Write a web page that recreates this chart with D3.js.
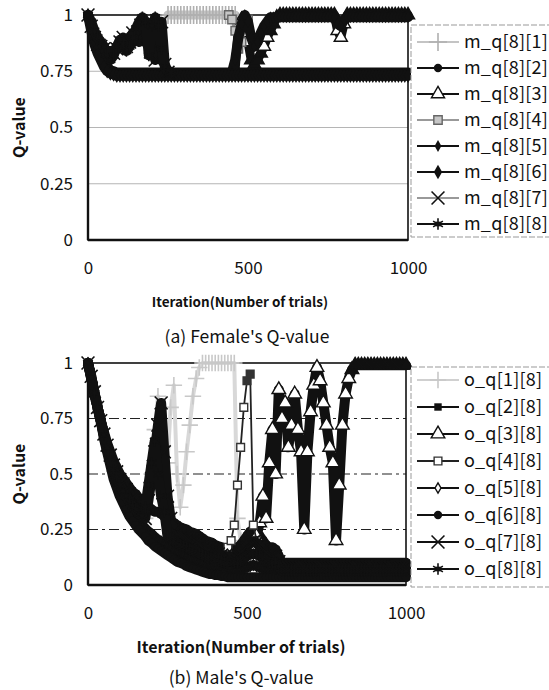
<!DOCTYPE html>
<html>
<head>
<meta charset="utf-8">
<script src="https://cdn.jsdelivr.net/npm/d3@7"></script>
<style>
  body { margin: 0; background: #fff; }
  text { font-family: "Noto Sans CJK JP", "DejaVu Sans", sans-serif; fill: #111; }
</style>
</head>
<body>
<svg id="chart" width="549" height="690"></svg>
<script>
// ---- data ----
const step = 10; // one sample every 10 trials
const iterTicks = [0, 500, 1000];
const qTicks = [0, 0.25, 0.5, 0.75, 1];
const qTickLabels = ['0', '0.25', '0.5', '0.75', '1'];
const gridTicks = [0.25, 0.5, 0.75];

// (a) female: m_q[8][k]
const femaleNames = ['m_q[8][1]', 'm_q[8][2]', 'm_q[8][3]', 'm_q[8][4]', 'm_q[8][5]', 'm_q[8][6]', 'm_q[8][7]', 'm_q[8][8]'];
const femaleStart = [250, 0, 450, 440, 450, 0, 0, 0];
const mq1 = [1, 1, 1, 1, 1, 1, 1, 1, 1, 1, 1, 1, 1, 1, 1, 1, 1, 1, 1, 1, 1, 1, 0.97];
const mq2 = [
  1, 0.95, 0.9, 0.86, 0.82, 0.79, 0.77, 0.755, 0.75, 0.745,
  0.745, 0.745, 0.745, 0.745, 0.745, 0.745, 0.745, 0.745, 0.745, 0.745,
  0.745, 0.745, 0.745, 0.745, 0.745, 0.745, 0.745, 0.745, 0.745, 0.745,
  0.745, 0.745, 0.745, 0.745, 0.745, 0.745, 0.745, 0.745, 0.745, 0.745,
  0.745, 0.745, 0.745, 0.745, 0.745, 0.745, 0.745, 0.745, 0.745, 0.745,
  0.745, 0.745, 0.745, 0.745, 0.745, 0.745, 0.745, 0.745, 0.745, 0.745,
  0.745, 0.745, 0.745, 0.745, 0.745, 0.745, 0.745, 0.745, 0.745, 0.745,
  0.745, 0.745, 0.745, 0.745, 0.745, 0.745, 0.745, 0.745, 0.745, 0.745,
  0.745, 0.745, 0.745, 0.745, 0.745, 0.745, 0.745, 0.745, 0.745, 0.745,
  0.745, 0.745, 0.745, 0.745, 0.745, 0.745, 0.745, 0.745, 0.745, 0.745,
  0.745];
const mq3 = [
  0.745, 0.76, 0.95, 0.98, 0.92, 0.88, 0.8, 0.78, 0.8, 0.83,
  0.86, 0.9, 0.93, 0.96, 0.99, 1, 1, 1, 1, 1,
  1, 1, 1, 1, 1, 1, 1, 1, 1, 1,
  1, 1, 1, 0.93, 0.9, 0.96, 1, 1, 1, 1,
  1, 1, 1, 1, 1, 1, 1, 1, 1, 1,
  1, 1, 1, 1, 1, 1];
const mq4 = [1, 0.98, 0.93, 0.85, 0.88, 0.94, 0.98];
const mq5 = [
  0.745, 0.8, 0.9, 0.96, 1, 0.97, 0.9, 0.86, 0.88, 0.92,
  0.95, 0.97, 0.99, 0.99, 0.99, 0.99, 0.99, 0.99, 0.99, 0.99,
  0.99, 0.99, 0.99, 0.99, 0.99, 0.99, 0.99, 0.99, 0.99, 0.99,
  0.99, 0.99, 0.99, 0.96, 0.95, 0.98, 0.99, 0.99, 0.99, 0.99,
  0.99, 0.99, 0.99, 0.99, 0.99, 0.99, 0.99, 0.99, 0.99, 0.99,
  0.99, 0.99, 0.99, 0.99, 0.99, 0.99];
const mq6 = [
  1, 0.93, 0.87, 0.83, 0.8, 0.77, 0.75, 0.74, 0.735, 0.73,
  0.73, 0.73, 0.73, 0.73, 0.73, 0.73, 0.73, 0.73, 0.73, 0.73,
  0.73, 0.73, 0.73, 0.73, 0.73, 0.73, 0.73, 0.73, 0.73, 0.73,
  0.73, 0.73, 0.73, 0.73, 0.73, 0.73, 0.73, 0.73, 0.73, 0.73,
  0.73, 0.73, 0.73, 0.73, 0.73, 0.73, 0.73, 0.73, 0.73, 0.73,
  0.73, 0.73, 0.73, 0.73, 0.73, 0.73, 0.73, 0.73, 0.73, 0.73,
  0.73, 0.73, 0.73, 0.73, 0.73, 0.73, 0.73, 0.73, 0.73, 0.73,
  0.73, 0.73, 0.73, 0.73, 0.73, 0.73, 0.73, 0.73, 0.73, 0.73,
  0.73, 0.73, 0.73, 0.73, 0.73, 0.73, 0.73, 0.73, 0.73, 0.73,
  0.73, 0.73, 0.73, 0.73, 0.73, 0.73, 0.73, 0.73, 0.73, 0.73,
  0.73];
const mq7 = [
  1, 0.95, 0.9, 0.87, 0.86, 0.85, 0.84, 0.84, 0.83, 0.85,
  0.88, 0.9, 0.86, 0.88, 0.92, 0.9, 0.88, 0.93, 0.96, 0.93,
  0.88, 0.8, 0.92, 0.97, 0.78, 0.745];
const mq8 = [
  1, 0.97, 0.93, 0.9, 0.88, 0.86, 0.82, 0.8, 0.82, 0.86,
  0.89, 0.87, 0.84, 0.86, 0.9, 0.94, 0.97, 0.99, 0.97, 0.82,
  0.95, 0.99, 0.95, 0.85, 0.77, 0.75, 0.745];

// (b) male: o_q[k][8]
const maleNames = ['o_q[1][8]', 'o_q[2][8]', 'o_q[3][8]', 'o_q[4][8]', 'o_q[5][8]', 'o_q[6][8]', 'o_q[7][8]', 'o_q[8][8]'];
const maleStart = [170, 0, 530, 440, 0, 0, 0, 0];
const oq1 = [
  0.24, 0.3, 0.35, 0.5, 0.7, 0.85, 0.6, 0.4, 0.55, 0.8,
  0.9, 0.5, 0.35, 0.45, 0.6, 0.72, 0.85, 0.93, 0.98, 1,
  1, 1, 1, 1, 1, 1, 1, 1, 1, 1,
  0.3, 0.2];
const oq2 = [
  1, 0.94, 0.87, 0.8, 0.74, 0.69, 0.64, 0.6, 0.56, 0.53,
  0.5, 0.48, 0.46, 0.44, 0.42, 0.41, 0.39, 0.38, 0.36, 0.35,
  0.34, 0.33, 0.33, 0.32, 0.31, 0.3, 0.29, 0.28, 0.27, 0.26,
  0.255, 0.25, 0.24, 0.235, 0.23, 0.22, 0.21, 0.2, 0.195, 0.19,
  0.18, 0.175, 0.17, 0.16, 0.155, 0.155, 0.16, 0.17, 0.18, 0.2,
  0.22, 0.24, 0.25, 0.24, 0.22, 0.2, 0.18, 0.17, 0.17, 0.16,
  0.13, 0.1, 0.1, 0.1, 0.1, 0.1, 0.1, 0.1, 0.1, 0.1,
  0.1, 0.1, 0.1, 0.1, 0.1, 0.1, 0.1, 0.1, 0.1, 0.1,
  0.1, 0.1, 0.1, 0.1, 0.1, 0.1, 0.1, 0.1, 0.1, 0.1,
  0.1, 0.1, 0.1, 0.1, 0.1, 0.1, 0.1, 0.1, 0.1, 0.1,
  0.1];
const oq3 = [
  0.22, 0.28, 0.4, 0.3, 0.55, 0.7, 0.5, 0.88, 0.75, 0.82,
  0.62, 0.72, 0.86, 0.7, 0.6, 0.25, 0.6, 0.78, 0.9, 0.98,
  0.92, 0.82, 0.72, 0.62, 0.55, 0.2, 0.45, 0.72, 0.86, 0.93,
  0.97, 0.99, 0.99, 0.99, 0.99, 0.99, 0.99, 0.99, 0.99, 0.99,
  0.99, 0.99, 0.99, 0.99, 0.99, 0.99, 0.99, 0.99];
const oq4 = [0.17, 0.2, 0.27, 0.45, 0.62, 0.8, 0.92, 0.95, 0.27, 0.2];
const oq5 = [
  1, 0.93, 0.86, 0.8, 0.74, 0.67, 0.61, 0.555, 0.5, 0.46,
  0.425, 0.4, 0.37, 0.34, 0.32, 0.305, 0.285, 0.27, 0.255, 0.24,
  0.23, 0.215, 0.205, 0.195, 0.185, 0.175, 0.165, 0.155, 0.145, 0.14,
  0.135, 0.125, 0.12, 0.115, 0.11, 0.105, 0.1, 0.09, 0.085, 0.085,
  0.08, 0.08, 0.07, 0.07, 0.065, 0.065, 0.065, 0.07, 0.07, 0.075,
  0.08, 0.085, 0.09, 0.085, 0.08, 0.075, 0.07, 0.07, 0.07, 0.065,
  0.06, 0.05, 0.05, 0.05, 0.05, 0.05, 0.05, 0.05, 0.05, 0.05,
  0.05, 0.05, 0.05, 0.05, 0.05, 0.05, 0.05, 0.05, 0.05, 0.05,
  0.05, 0.05, 0.05, 0.05, 0.05, 0.05, 0.05, 0.05, 0.05, 0.05,
  0.05, 0.05, 0.05, 0.05, 0.05, 0.05, 0.05, 0.05, 0.05, 0.05,
  0.05];
const oq6 = [
  1, 0.93, 0.86, 0.8, 0.74, 0.66, 0.6, 0.54, 0.48, 0.44,
  0.4, 0.37, 0.34, 0.31, 0.29, 0.27, 0.25, 0.235, 0.22, 0.2,
  0.19, 0.175, 0.165, 0.155, 0.145, 0.135, 0.125, 0.115, 0.105, 0.1,
  0.095, 0.085, 0.08, 0.075, 0.07, 0.065, 0.06, 0.055, 0.05, 0.05,
  0.045, 0.045, 0.04, 0.04, 0.035, 0.035, 0.035, 0.035, 0.035, 0.035,
  0.035, 0.035, 0.035, 0.035, 0.035, 0.035, 0.035, 0.035, 0.035, 0.035,
  0.035, 0.035, 0.035, 0.035, 0.035, 0.035, 0.035, 0.035, 0.035, 0.035,
  0.035, 0.035, 0.035, 0.035, 0.035, 0.035, 0.035, 0.035, 0.035, 0.035,
  0.035, 0.035, 0.035, 0.035, 0.035, 0.035, 0.035, 0.035, 0.035, 0.035,
  0.035, 0.035, 0.035, 0.035, 0.035, 0.035, 0.035, 0.035, 0.035, 0.035,
  0.035];
const oq7 = [
  1, 0.94, 0.87, 0.8, 0.74, 0.68, 0.63, 0.585, 0.54, 0.51,
  0.475, 0.455, 0.43, 0.41, 0.39, 0.375, 0.355, 0.345, 0.3, 0.38,
  0.48, 0.6, 0.72, 0.82, 0.6, 0.4, 0.3, 0.24, 0.23, 0.22,
  0.215, 0.21, 0.2, 0.195, 0.19, 0.18, 0.17, 0.165, 0.16, 0.155,
  0.145, 0.14, 0.135, 0.13, 0.125, 0.125, 0.13, 0.135, 0.145, 0.16,
  0.175, 0.19, 0.195, 0.19, 0.175, 0.16, 0.145, 0.135, 0.135, 0.13,
  0.105, 0.08, 0.08, 0.08, 0.08, 0.08, 0.08, 0.08, 0.08, 0.08,
  0.08, 0.08, 0.08, 0.08, 0.08, 0.08, 0.08, 0.08, 0.08, 0.08,
  0.08, 0.08, 0.08, 0.08, 0.08, 0.08, 0.08, 0.08, 0.08, 0.08,
  0.08, 0.08, 0.08, 0.08, 0.08, 0.08, 0.08, 0.08, 0.08, 0.08,
  0.08];
const oq8 = [
  1, 0.935, 0.865, 0.8, 0.74, 0.675, 0.62, 0.57, 0.52, 0.485,
  0.45, 0.425, 0.4, 0.375, 0.355, 0.34, 0.32, 0.31, 0.35, 0.45,
  0.55, 0.65, 0.5, 0.4, 0.33, 0.22, 0.21, 0.2, 0.19, 0.18,
  0.175, 0.17, 0.16, 0.155, 0.15, 0.145, 0.135, 0.13, 0.12, 0.12,
  0.11, 0.11, 0.105, 0.1, 0.095, 0.095, 0.1, 0.1, 0.11, 0.12,
  0.13, 0.14, 0.14, 0.14, 0.13, 0.12, 0.11, 0.1, 0.1, 0.1,
  0.08, 0.065, 0.065, 0.065, 0.065, 0.065, 0.065, 0.065, 0.065, 0.065,
  0.065, 0.065, 0.065, 0.065, 0.065, 0.065, 0.065, 0.065, 0.065, 0.065,
  0.065, 0.065, 0.065, 0.065, 0.065, 0.065, 0.065, 0.065, 0.065, 0.065,
  0.065, 0.065, 0.065, 0.065, 0.065, 0.065, 0.065, 0.065, 0.065, 0.065,
  0.065];

// ---- styles ----
// env: width of the band traced by the densely packed markers
const femaleStyles = [
  { line: '#c4c4c4', env: 9, envColor: '#c4c4c4', shape: 'plus', stroke: '#b0b0b0', size: 110 },
  { line: '#111', env: 10, envColor: '#111', shape: 'circle', fill: '#111', size: 55 },
  { line: '#111', env: 9, envColor: '#111', shape: 'triangle', fill: '#fff', stroke: '#111', size: 75, hollow: true },
  { line: '#999', env: 3, envColor: '#9a9a9a', shape: 'square', fill: '#c6c6c6', stroke: '#666', size: 70 },
  { line: '#111', env: 10, envColor: '#111', shape: 'diamond', fill: '#111', size: 40 },
  { line: '#111', env: 10, envColor: '#111', shape: 'diamond', fill: '#111', size: 60 },
  { line: '#999', env: 10, envColor: '#111', shape: 'times', stroke: '#111', size: 110 },
  { line: '#111', env: 10, envColor: '#111', shape: 'star', fill: '#111', stroke: '#111', size: 90 }
];
const maleStyles = [
  { line: '#d0d0d0', env: 4, envColor: '#d8d8d8', shape: 'plus', stroke: '#c8c8c8', size: 90 },
  { line: '#111', env: 10, envColor: '#111', shape: 'square', fill: '#111', size: 55 },
  { line: '#111', env: 10, envColor: '#111', shape: 'triangle', fill: '#fff', stroke: '#111', size: 80, hollow: true },
  { line: '#222', env: 1.8, envColor: '#222', shape: 'square', fill: '#fff', stroke: '#333', size: 60, hollow: true },
  { line: '#111', env: 10, envColor: '#111', shape: 'diamond', fill: '#fff', stroke: '#111', size: 30, solidInPlot: true },
  { line: '#111', env: 10, envColor: '#111', shape: 'circle', fill: '#111', size: 55 },
  { line: '#111', env: 10, envColor: '#111', shape: 'times', stroke: '#111', size: 110 },
  { line: '#111', env: 10, envColor: '#111', shape: 'star', fill: '#111', stroke: '#111', size: 90 }
];

const symbolTypes = {
  plus: d3.symbolPlus, circle: d3.symbolCircle, triangle: d3.symbolTriangle,
  square: d3.symbolSquare, diamond: d3.symbolDiamond, times: d3.symbolTimes,
  star: d3.symbolAsterisk
};

const svg = d3.select('#chart');

function drawMarker(sel, st, fill) {
  if (st.shape === 'star') {
    sel.append('path').attr('d', d3.symbol(d3.symbolSquare, 22)())
      .attr('fill', st.fill);
  }
  const stroked = ['plus', 'times', 'star'].includes(st.shape);
  sel.append('path')
    .attr('d', d3.symbol(symbolTypes[st.shape], st.size)())
    .attr('fill', stroked ? 'none' : (fill || st.fill))
    .attr('stroke', stroked ? st.stroke : (st.stroke || 'none'))
    .attr('stroke-width', stroked ? 1.6 : 1.4);
}

// a hollow marker only shows its inside where it stands apart from its neighbours
function standsApart(vals, i) {
  const p = i > 0 ? Math.abs(vals[i] - vals[i - 1]) : 1;
  const n = i < vals.length - 1 ? Math.abs(vals[i + 1] - vals[i]) : 1;
  return Math.min(p, n) >= 0.03;
}

function drawPanel(cfg) {
  const x = d3.scaleLinear().domain([0, 1000]).range([cfg.left, cfg.right]);
  const y = d3.scaleLinear().domain([0, 1]).range([cfg.bottom, cfg.top]);
  const g = svg.append('g');

  g.selectAll('line.grid').data(gridTicks).join('line')
    .attr('class', 'grid')
    .attr('x1', x(0)).attr('x2', x(1000))
    .attr('y1', d => y(d)).attr('y2', d => y(d))
    .attr('stroke', cfg.gridColor)
    .attr('stroke-width', cfg.gridWidth)
    .attr('stroke-dasharray', cfg.gridDash);

  // frame
  g.append('rect')
    .attr('x', x(0)).attr('y', y(1))
    .attr('width', x(1000) - x(0)).attr('height', y(0) - y(1))
    .attr('fill', 'none').attr('stroke', '#111').attr('stroke-width', 1.6);
  g.append('line').attr('x1', x(0)).attr('x2', x(0)).attr('y1', y(1)).attr('y2', y(0))
    .attr('stroke', '#111').attr('stroke-width', 2.4);
  g.append('line').attr('x1', x(0)).attr('x2', x(1000)).attr('y1', y(0)).attr('y2', y(0))
    .attr('stroke', '#111').attr('stroke-width', 2.4);

  const line = d3.line().x(d => x(d[0])).y(d => y(d[1]));
  cfg.series.forEach((vals, k) => {
    const st = cfg.styles[k];
    const pts = vals.map((v, i) => [cfg.starts[k] + i * step, v, i]);
    g.append('path').datum(pts).attr('d', line)
      .attr('fill', 'none').attr('stroke', st.envColor).attr('stroke-width', st.env)
      .attr('stroke-linejoin', 'round').attr('stroke-linecap', 'round');
    g.selectAll(null).data(pts).join('g')
      .attr('transform', d => `translate(${x(d[0])},${y(d[1])})`)
      .each(function (d) {
        let fill = st.fill;
        if (st.hollow && !standsApart(vals, d[2])) fill = st.stroke;
        if (st.solidInPlot) fill = st.stroke;
        drawMarker(d3.select(this), st, fill);
      });
  });

  // axes
  const yAxis = g.append('g').attr('transform', `translate(${x(0)},0)`)
    .call(d3.axisLeft(y).tickValues(qTicks).tickFormat((d, i) => qTickLabels[i])
      .tickSize(0).tickPadding(15));
  yAxis.select('.domain').remove();
  yAxis.selectAll('text').attr('font-size', 17).attr('font-family', '"Noto Sans CJK JP", sans-serif');

  const xAxis = g.append('g').attr('transform', `translate(0,${y(0)})`)
    .call(d3.axisBottom(x).tickValues(iterTicks).tickFormat(d3.format('d'))
      .tickSize(0).tickPadding(22));
  xAxis.select('.domain').remove();
  xAxis.selectAll('text').attr('font-size', 17).attr('font-family', '"Noto Sans CJK JP", sans-serif');

  g.append('text')
    .attr('transform', `translate(${cfg.yTitleX},${(y(0) + y(1)) / 2}) rotate(-90)`)
    .attr('text-anchor', 'middle').attr('dy', '0.35em')
    .attr('font-size', 16).attr('font-weight', 700)
    .text('Q-value');
  g.append('text')
    .attr('x', (x(0) + x(1000)) / 2 + cfg.titleShift).attr('y', cfg.xTitleY)
    .attr('text-anchor', 'middle').attr('font-size', cfg.xTitleSize).attr('font-weight', 700)
    .text('Iteration(Number of trials)');
  g.append('text')
    .attr('x', (x(0) + x(1000)) / 2 + cfg.subShift).attr('y', cfg.subY)
    .attr('text-anchor', 'middle').attr('font-size', 17.5)
    .text(cfg.subtitle);

  // legend
  const lg = g.append('g');
  lg.append('rect')
    .attr('x', cfg.legend.x).attr('y', cfg.legend.y)
    .attr('width', 160).attr('height', cfg.legend.h)
    .attr('fill', '#fff').attr('stroke', '#999').attr('stroke-width', 1)
    .attr('stroke-dasharray', '6,2');
  cfg.names.forEach((name, k) => {
    const st = cfg.styles[k];
    const ly = cfg.legend.y0 + k * cfg.legend.dy;
    const item = lg.append('g').attr('transform', `translate(${cfg.legend.x},${ly})`);
    item.append('line').attr('x1', 6).attr('x2', 48).attr('y1', 0).attr('y2', 0)
      .attr('stroke', st.line).attr('stroke-width', 1.8);
    drawMarker(item.append('g').attr('transform', 'translate(27,0)'), st, st.fill);
    item.append('text').attr('x', 53).attr('y', 0).attr('dy', '0.35em')
      .attr('font-size', 18).attr('letter-spacing', 0.2).text(name);
  });
}

drawPanel({
  left: 88, right: 408, top: 15, bottom: 240,
  gridColor: '#b5b5b5', gridWidth: 1, gridDash: null,
  series: [mq1, mq2, mq3, mq4, mq5, mq6, mq7, mq8],
  starts: femaleStart, styles: femaleStyles, names: femaleNames,
  yTitleX: 19, xTitleY: 307, xTitleSize: 13.5, titleShift: -8,
  subY: 343, subShift: -1, subtitle: "(a) Female's Q-value",
  legend: { x: 411, y: 25, h: 212, y0: 42, dy: 26 }
});

drawPanel({
  left: 88, right: 406, top: 363, bottom: 585,
  gridColor: '#222', gridWidth: 1.1, gridDash: '10,4,3,4',
  series: [oq1, oq2, oq3, oq4, oq5, oq6, oq7, oq8],
  starts: maleStart, styles: maleStyles, names: maleNames,
  yTitleX: 19, xTitleY: 653, xTitleSize: 16, titleShift: -6,
  subY: 684, subShift: -6, subtitle: "(b) Male's Q-value",
  legend: { x: 411, y: 367, h: 220, y0: 380, dy: 27 }
});
</script>
</body>
</html>
